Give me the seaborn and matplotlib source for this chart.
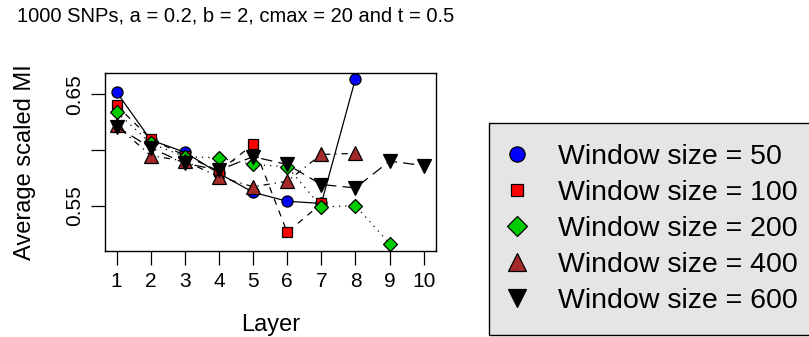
import numpy as np
import pandas as pd
import matplotlib
matplotlib.use("Agg")
import matplotlib.pyplot as plt
from matplotlib.lines import Line2D
import seaborn as sns

# ---- data ----
layers_50 = [1, 2, 3, 4, 5, 6, 7, 8]
mi_50 = [0.652, 0.609, 0.598, 0.579, 0.562, 0.554, 0.552, 0.664]

layers_100 = [1, 2, 3, 4, 5, 6, 7]
mi_100 = [0.640, 0.610, 0.595, 0.581, 0.605, 0.526, 0.552]

layers_200 = [1, 2, 3, 4, 5, 6, 7, 8, 9]
mi_200 = [0.634, 0.606, 0.594, 0.593, 0.587, 0.585, 0.549, 0.550, 0.516]

layers_400 = [1, 2, 3, 4, 5, 6, 7, 8]
mi_400 = [0.622, 0.595, 0.590, 0.576, 0.567, 0.572, 0.596, 0.597]

layers_600 = [1, 2, 3, 4, 5, 6, 7, 8, 9, 10]
mi_600 = [0.621, 0.602, 0.588, 0.582, 0.594, 0.587, 0.569, 0.566, 0.590, 0.586]

window_labels = ["Window size = 50", "Window size = 100", "Window size = 200",
                 "Window size = 400", "Window size = 600"]
title_text = "1000 SNPs, a = 0.2, b = 2, cmax = 20 and t = 0.5"

series = [
    (layers_50, mi_50, "#0000FF", "o", 8, "-"),
    (layers_100, mi_100, "#FF0000", "s", 7, (0, (5, 5))),
    (layers_200, mi_200, "#00CD00", "D", 7, (0, (1, 4))),
    (layers_400, mi_400, "#A52A2A", "^", 10, (0, (1, 4, 5, 4))),
    (layers_600, mi_600, "#000000", "v", 10, (0, (9, 5))),
]

sns.set_theme(style="ticks")
plt.rcParams['font.family'] = ['Liberation Sans', 'DejaVu Sans']
plt.rcParams.update({"text.color": "black", "axes.labelcolor": "black",
                     "xtick.color": "black", "ytick.color": "black"})

fig = plt.figure(figsize=(8.09, 3.37), dpi=100)
ax = fig.add_axes([105 / 809, 1 - 250.7 / 337, (436 - 105) / 809, (250.7 - 72.7) / 337])

for (xs, ys, col, mk, ms, ls), lab in zip(series, window_labels):
    df = pd.DataFrame({"Layer": xs, "MI": ys})
    sns.lineplot(data=df, x="Layer", y="MI", ax=ax, color="black", linewidth=0.9,
                 linestyle=ls, marker=mk, markersize=ms, markerfacecolor=col,
                 markeredgecolor="black", markeredgewidth=0.9, label=lab, legend=False)

ax.set_xlim(0.66, 10.36)
ax.set_ylim(0.5096, 0.6694)
ax.set_xticks(range(1, 11))
ax.set_xticklabels([str(i) for i in range(1, 11)], fontsize=15)
ax.set_yticks([0.55, 0.60, 0.65])
ax.set_yticklabels(["0.55", "", "0.65"], fontsize=15, rotation=90, va="center")
ax.tick_params(axis="both", length=10, width=0.9, color="black", pad=5)
for sp in ax.spines.values():
    sp.set_visible(True)
    sp.set_linewidth(1.0)
    sp.set_color("black")
ax.set_xlabel("Layer", fontsize=17, labelpad=17)
ax.set_ylabel("Average scaled MI", fontsize=17, labelpad=21)

fig.text(17 / 809, 1 - 16 / 337, title_text, fontsize=14.5, ha="left", va="center")

handles = []
for (xs, ys, col, mk, ms, ls) in series:
    size = {"o": 11, "s": 8, "D": 10, "^": 13, "v": 13}[mk]
    handles.append(Line2D([], [], linestyle="none", marker=mk, markersize=size,
                          markerfacecolor=col, markeredgecolor="black", markeredgewidth=0.9))
leg = fig.legend(handles, window_labels, loc="upper left",
                 bbox_to_anchor=(489 / 809, 1 - 122.7 / 337), borderaxespad=0,
                 fontsize=20.5, frameon=True, fancybox=False, handlelength=0.5,
                 handletextpad=1.2, labelspacing=0.35, borderpad=0.74)
leg.get_frame().set_facecolor("#E5E5E5")
leg.get_frame().set_edgecolor("black")
leg.get_frame().set_linewidth(1.0)
leg.get_frame().set_alpha(1)

fig.savefig("out.png", dpi=100)
